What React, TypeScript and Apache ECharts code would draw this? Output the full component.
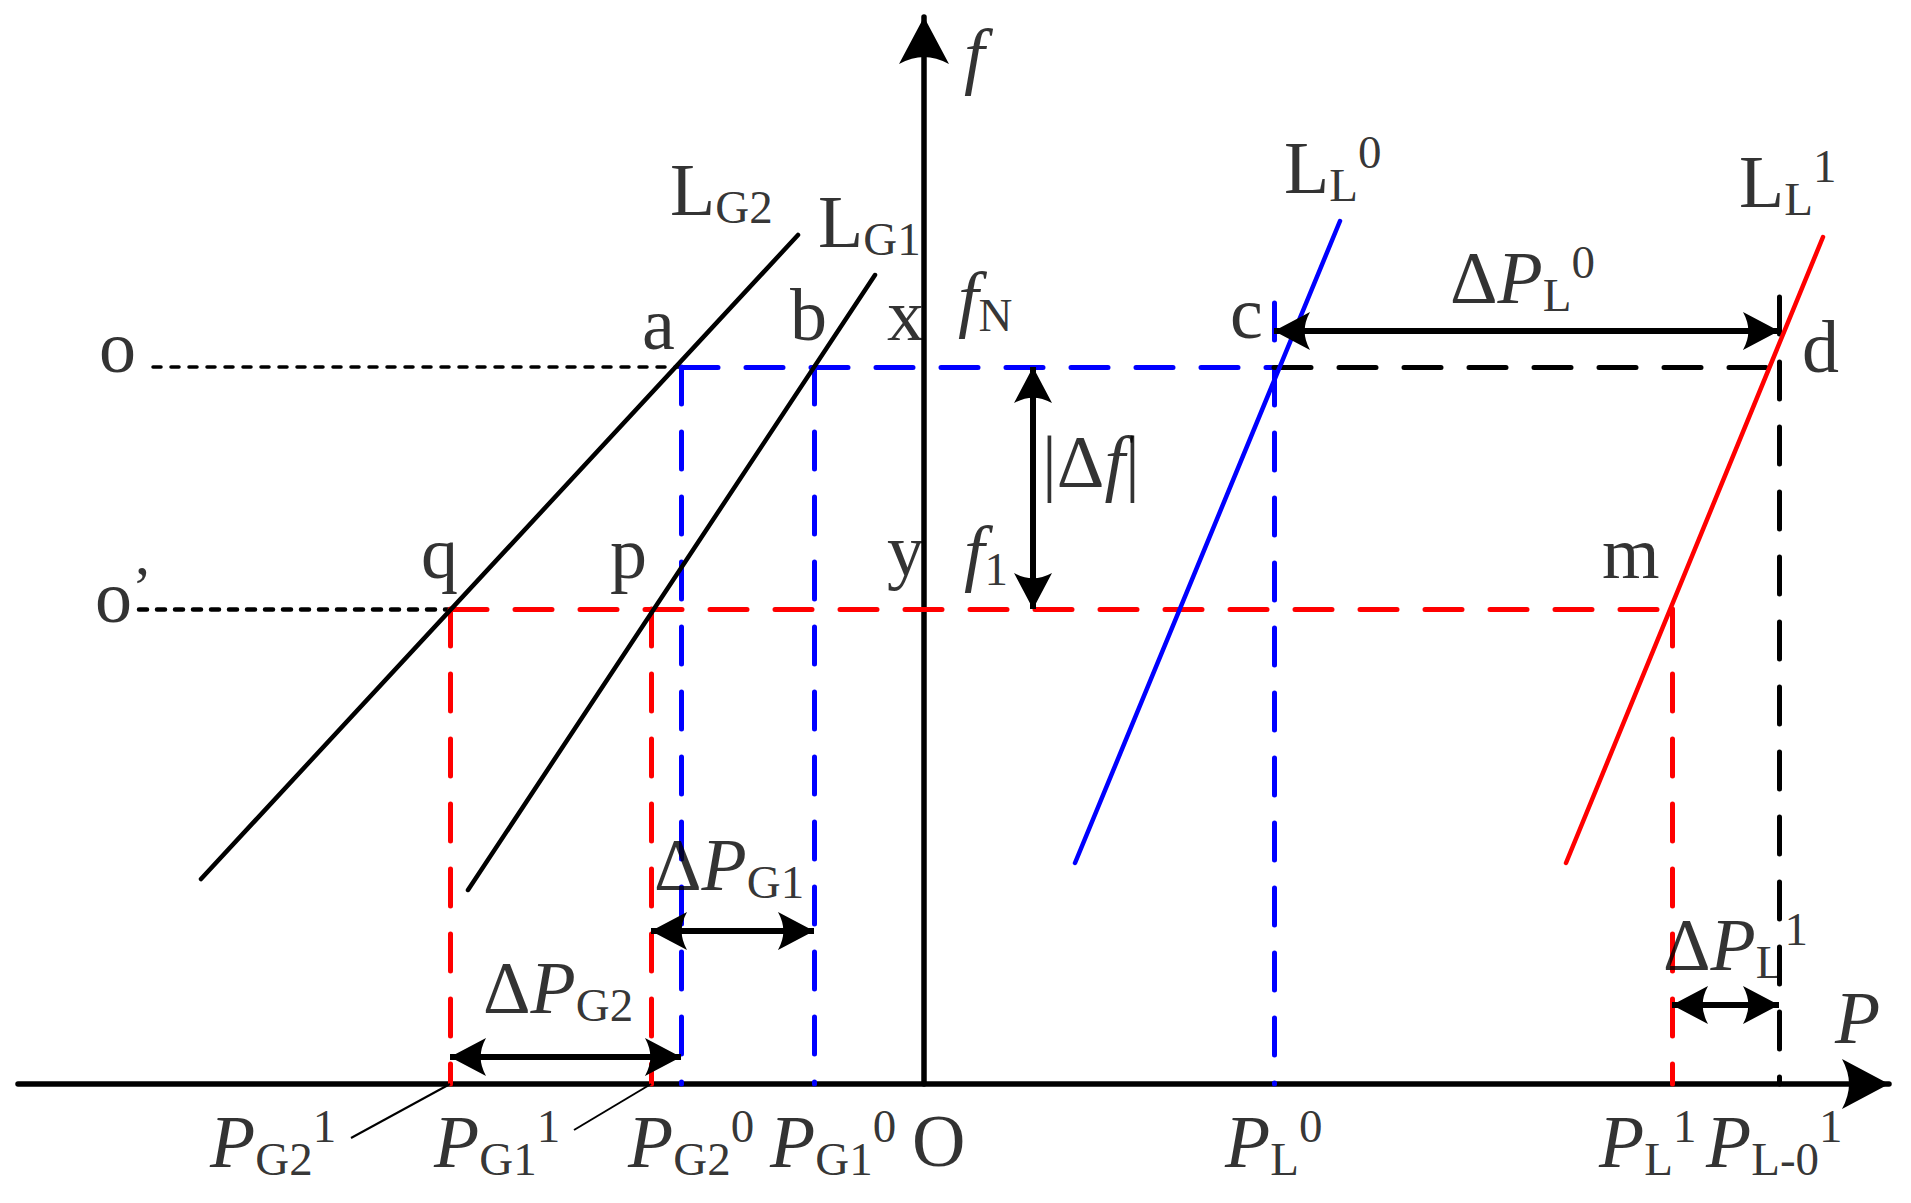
import React, { useEffect, useRef } from 'react';
import * as echarts from 'echarts';

// P-f diagram, units (origin at O)
const fN = 71.7;
const f1 = 47.5;
const PG2_1 = -47.4;
const PG1_1 = -27.3;
const PG2_0 = -24.3;
const PG1_0 = -11.0;
const PL_0 = 35.0;
const PL_1 = 74.8;
const PL0_1 = 85.5;

// characteristic lines [[P, f], [P, f]]
const LG2 = [[-72.3, 20.5], [-12.6, 84.9]];
const LG1 = [[-45.6, 19.4], [-4.9, 80.9]];
const LL0 = [[15.1, 22.1], [41.6, 86.3]];
const LL1 = [[64.2, 22.1], [89.9, 84.7]];

const dottedStart = [-77.1, -78.5]; // o, o'
const tickTop = [78.1, 78.7]; // c, d

// double arrows: [y, from, to] horizontal, [x, from, to] vertical
const arrowsH = [
  [75.3, PL_0, PL0_1],
  [15.3, PG1_1, PG1_0],
  [2.7, PG2_1, PG2_0],
  [7.9, PL_1, PL0_1],
];
const arrowsV = [[10.9, f1, fN]];

const leaders = [
  [[PG2_1, 0], [-57.3, -5.4]],
  [[PG1_1, 0], [-35.0, -4.6]],
];

// [rich text, P, f] - f is the baseline
const labels: [string, number, number][] = [
  ['{i|f}', 4.0, 100.4],
  ['{i|P}', 91.1, 4.1],
  ['{m|L}{sub|G2}', -25.4, 86.9],
  ['{m|L}{sub|G1}', -10.6, 83.7],
  ['{m|L}{sub|L}{sup|0}', 36.0, 89.1],
  ['{m|L}{sub|L}{sup|1}', 81.5, 87.7],
  ['{m|Δ}{i|P}{sub|L}{sup|0}', 52.6, 78.1],
  ['{m|a}', -28.2, 73.5],
  ['{m|b}', -13.4, 74.4],
  ['{m|x}', -3.7, 74.4],
  ['{i|f}{sub|N}', 3.4, 76.1],
  ['{m|c}', 30.6, 74.6],
  ['{m|d}', 87.8, 71.2],
  ['{m|o}', -82.5, 71.2],
  ['{m||Δ}{i|f}{m||}', 11.8, 59.7],
  ['{m|q}', -50.3, 50.6],
  ['{m|p}', -31.4, 50.6],
  ['{m|y}', -3.7, 50.9],
  ['{i|f}{sub|1}', 4.0, 50.7],
  ['{m|m}', 67.8, 50.6],
  ['{m|o}{pr|’}', -82.9, 46.2],
  ['{m|Δ}{i|P}{sub|G1}', -27.0, 19.4],
  ['{m|Δ}{i|P}{sub|G2}', -44.1, 7.1],
  ['{m|Δ}{i|P}{sub|L}{sup|1}', 73.9, 11.4],
  ['{i|P}{sub|G2}{sup|1}', -71.4, -8.3],
  ['{i|P}{sub|G1}{sup|1}', -49.0, -8.3],
  ['{i|P}{sub|G2}{sup|0}', -29.6, -8.3],
  ['{i|P}{sub|G1}{sup|0}', -15.4, -8.3],
  ['{m|O}', -1.2, -8.2],
  ['{i|P}{sub|L}{sup|0}', 30.1, -8.3],
  ['{i|P}{sub|L}{sup|1}', 67.5, -8.3],
  ['{i|P}{sub|L-0}{sup|1}', 78.2, -8.3],
];

const SERIF = '"Liberation Serif", "Times New Roman", serif';
const BLUE = '#0000ff';
const RED = '#ff0000';
const arrowSym = 'path://M25,0L50,47Q37,40,25,40Q13,40,0,47Z';

const App: React.FC = () => {
  const chartRef = useRef<HTMLDivElement>(null);

  useEffect(() => {
    document.body.style.margin = '0';
    if (!chartRef.current) return;
    const chart = echarts.init(chartRef.current, null, { renderer: 'svg' });

    const seg = (a: number[], b: number[], color: string) => ({ coords: [a, b], lineStyle: { color } });

    const dashed = [
      seg([PG2_0, fN], [PL_0, fN], BLUE),
      seg([PG2_0, fN], [PG2_0, 0], BLUE),
      seg([PG1_0, fN], [PG1_0, 0], BLUE),
      seg([PL_0, tickTop[0]], [PL_0, 0], BLUE),
      seg([PL_0, fN], [PL0_1, fN], '#000'),
      seg([PL0_1, tickTop[1]], [PL0_1, 0], '#000'),
      seg([PG2_1, f1], [PL_1, f1], RED),
      seg([PG2_1, f1], [PG2_1, 0], RED),
      seg([PG1_1, f1], [PG1_1, 0], RED),
      seg([PL_1, f1], [PL_1, 0], RED),
    ];

    const dotted = [
      { coords: [[dottedStart[0], fN], [PG2_0, fN]], lineStyle: { width: 3.5 } },
      { coords: [[dottedStart[1], f1], [PG2_1, f1]], lineStyle: { width: 4.5 } },
    ];

    const solid = [
      seg(LG2[0], LG2[1], '#000'),
      seg(LG1[0], LG1[1], '#000'),
      seg(LL0[0], LL0[1], BLUE),
      seg(LL1[0], LL1[1], RED),
    ];

    const end = (coord: number[]) => ({
      coord,
      symbol: arrowSym,
      symbolSize: [38, 36],
      symbolOffset: [0, 18],
    });
    const arrowData = [
      ...arrowsH.map(([y, a, b]) => [end([a, y]), end([b, y])]),
      ...arrowsV.map(([x, a, b]) => [end([x, a]), end([x, b])]),
    ];

    const rich = {
      m: { fontFamily: SERIF, fontSize: 74, lineHeight: 80, color: '#000' },
      i: { fontFamily: SERIF, fontSize: 74, fontStyle: 'italic', lineHeight: 80, color: '#000' },
      sub: { fontFamily: SERIF, fontSize: 47, lineHeight: 42, verticalAlign: 'bottom', color: '#000' },
      sup: { fontFamily: SERIF, fontSize: 47, lineHeight: 58, verticalAlign: 'top', color: '#000' },
      pr: { fontFamily: SERIF, fontSize: 60, lineHeight: 41, verticalAlign: 'top', color: '#000' },
    };

    const axisCommon = {
      type: 'value',
      axisTick: { show: false },
      axisLabel: { show: false },
      splitLine: { show: false },
      axisLine: {
        show: true,
        onZero: true,
        symbol: ['none', arrowSym],
        symbolSize: [50, 47],
        symbolOffset: [0, -23.5],
        lineStyle: { color: '#000', width: 5.5 },
      },
    };

    const option: any = {
      animation: false,
      backgroundColor: '#fff',
      grid: { left: 18, right: 22, top: 17, bottom: 119, outerBoundsMode: 'none' },
      xAxis: { ...axisCommon, min: -90.6, max: 96.5 },
      yAxis: { ...axisCommon, min: 0, max: 106.7 },
      series: [
        {
          type: 'lines',
          coordinateSystem: 'cartesian2d',
          clip: false,
          silent: true,
          lineStyle: { color: '#000', width: 4, opacity: 1, type: [8, 10], cap: 'round' },
          data: dotted,
        },
        {
          type: 'lines',
          coordinateSystem: 'cartesian2d',
          clip: false,
          silent: true,
          lineStyle: { width: 5, opacity: 1, type: [37, 28], cap: 'round' },
          data: dashed,
        },
        {
          type: 'lines',
          coordinateSystem: 'cartesian2d',
          clip: false,
          silent: true,
          lineStyle: { width: 4.5, opacity: 1, type: 'solid', cap: 'round' },
          data: solid,
        },
        {
          type: 'lines',
          coordinateSystem: 'cartesian2d',
          clip: false,
          silent: true,
          lineStyle: { color: '#000', width: 2, opacity: 1, type: 'solid' },
          data: leaders.map((c) => ({ coords: c })),
        },
        {
          type: 'line',
          data: [],
          silent: true,
          markLine: {
            silent: true,
            animation: false,
            symbol: arrowSym,
            symbolSize: 36,
            label: { show: false },
            emphasis: { disabled: true },
            lineStyle: { type: 'solid', color: '#000', width: 6 },
            data: arrowData,
          },
        },
        {
          type: 'scatter',
          clip: false,
          silent: true,
          symbolSize: 1,
          itemStyle: { color: 'rgba(0,0,0,0)' },
          label: {
            show: true,
            position: 'inside',
            align: 'left',
            verticalAlign: 'middle',
            offset: [0, -25],
            formatter: (p: any) => p.data.text,
            rich,
          },
          data: labels.map(([text, x, y]) => ({ value: [x, y], text })),
        },
      ],
    };

    chart.setOption(option);
    return () => {
      chart.dispose();
    };
  }, []);

  return <div ref={chartRef} style={{ width: 1911, height: 1203 }} />;
};

export default App;
